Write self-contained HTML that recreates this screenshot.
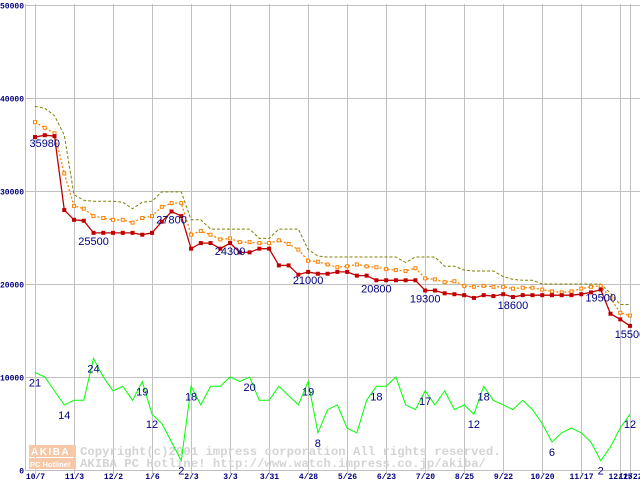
<!DOCTYPE html>
<html><head><meta charset="utf-8"><style>
html,body{margin:0;padding:0;background:#fff;}
svg{display:block;}
</style></head><body>
<svg id="chart" width="640" height="480" xmlns="http://www.w3.org/2000/svg"></svg>
<script>
const dates = ["10/7","11/3","12/2","1/6","2/3","3/3","3/31","4/28","5/26","6/23","7/20","8/25","9/22","10/20","11/17","12/15","12/22"];
const dateIdx = [0,4,8,12,16,20,24,28,32,36,40,44,48,52,56,60,61];
const yTicks = [0,10000,20000,30000,40000,50000];
const maxPrice = [39100,38900,38100,36000,29600,29000,28900,28900,28900,28800,28100,28800,28900,29900,29900,29900,26900,26900,25900,25900,25900,25900,25900,24900,24900,25900,25900,25900,23700,23000,22900,22900,22900,22900,22900,22900,22900,22900,22300,22900,22900,22900,21900,21900,21500,21400,21400,21400,20800,20500,20400,20400,20000,20000,20000,20000,20000,20000,20000,19000,17800,17800];
const avgPrice = [37400,36800,36200,31900,28400,28100,27300,27100,26900,26900,26600,27100,27300,28300,28700,28700,25300,25700,25300,24800,24900,24500,24500,24400,24400,24700,24300,23700,22500,22400,22100,21800,21900,22100,21900,21800,21600,21500,21400,21700,20600,20500,20200,20300,19800,19700,19800,19700,19700,19500,19600,19600,19400,19200,19100,19200,19500,19700,19800,18500,16900,16600];
const minPrice = [35800,36000,35900,27950,26900,26800,25500,25500,25500,25500,25500,25300,25500,26700,27800,27300,23800,24400,24400,23800,24400,23400,23400,23800,23800,22000,22000,21000,21300,21100,21100,21300,21300,20900,20900,20400,20400,20400,20400,20400,19300,19300,19000,18900,18800,18500,18800,18700,18900,18600,18800,18800,18800,18800,18800,18800,18900,19100,19400,16800,16200,15500];
const shopCount = [21,20,17,14,15,15,24,20,17,18,15,19,12,10,6,2,18,14,18,18,20,19,20,15,15,18,16,14,19,8,13,14,9,8,15,18,18,20,14,13,17,14,17,13,14,12,18,15,14,13,15,13,10,6,8,9,8,6,2,5,9,12];
const priceLabelIdx = [1,6,14,20,28,35,40,49,58,61];
const priceLabelText = ["35980","25500","27800","24300","21000","20800","19300","18600","19500","15500"];
const countLabelIdx = [0,3,6,11,12,15,16,22,28,29,35,40,45,46,53,58,61];

const svg = document.getElementById('chart');
const NS = "http://www.w3.org/2000/svg";
const X0 = 35, DX = 9.754, Y0 = 470, KY = 0.0093, COUNT_SCALE = 500;
function xs(i){ return X0 + i*DX; }
function ys(v){ return Y0 - v*KY; }
function mk(tag, attrs, parent){
  const e = document.createElementNS(NS, tag);
  for (const k in attrs) e.setAttribute(k, attrs[k]);
  (parent||svg).appendChild(e);
  return e;
}
const grid = mk('g', {});


mk('line',{x1:25.5,y1:4,x2:25.5,y2:470,stroke:'#c0c0c0','stroke-width':1},grid);
yTicks.forEach(t=>{
  const y = Math.round(ys(t))+0.5;
  mk('line',{x1:25,y1:y,x2:640,y2:y,stroke:'#c0c0c0','stroke-width':1},grid);
  const tx = mk('text',{x:24,y:y+3,'text-anchor':'end','font-family':'Liberation Mono, monospace','font-size':8,'font-weight':'bold',fill:'#000080'});
  tx.textContent = t;
  
  
});
dateIdx.forEach((di,k)=>{
  const x = Math.round(xs(di))+0.5;
  mk('line',{x1:x,y1:4,x2:x,y2:474,stroke:'#c0c0c0','stroke-width':1},grid);
  const tx = mk('text',{x:x,y:479,'text-anchor':'middle','font-family':'Liberation Mono, monospace','font-size':8,'font-weight':'bold',fill:'#000080'});
  tx.textContent = dates[k];
  
  
});
const wm = mk('g',{});


mk('rect',{x:29,y:445,width:47,height:12,fill:'#f6c8a8'},wm);
mk('rect',{x:29,y:458,width:47,height:11,fill:'#f6c8a8'},wm);
const wt1 = mk('text',{x:31,y:455,'font-family':'Liberation Sans, sans-serif','font-size':10,'font-weight':'bold',fill:'#fff','letter-spacing':1.5},wm); wt1.textContent='AKIBA';
const wt2 = mk('text',{x:30,y:467,'font-family':'Liberation Sans, sans-serif','font-size':7.5,'font-weight':'bold',fill:'#fff'},wm); wt2.textContent='PC Hotline!';
const wt3 = mk('text',{x:80,y:455,'font-family':'Liberation Mono, monospace','font-size':12.3,'font-weight':'bold',fill:'#d4d4d4'},wm); wt3.textContent='Copyright(c)2001 impress corporation All rights reserved.';
const wt4 = mk('text',{x:80,y:467,'font-family':'Liberation Mono, monospace','font-size':12.3,'font-weight':'bold',fill:'#d4d4d4'},wm); wt4.textContent='AKIBA PC Hotline!  http://www.watch.impress.co.jp/akiba/';

function pts(arr, scale){ return arr.map((v,i)=>xs(i).toFixed(1)+','+ys(v*scale).toFixed(1)).join(' '); }
const cl = mk('polyline',{points:pts(shopCount,COUNT_SCALE),fill:'none',stroke:'#00ff00','stroke-width':1});


const mx = mk('polyline',{points:pts(maxPrice,1),fill:'none',stroke:'#808000','stroke-width':1,'stroke-dasharray':'3,2'});


const av = mk('polyline',{points:pts(avgPrice,1),fill:'none',stroke:'#ff8000','stroke-width':1.3,'stroke-dasharray':'2,2'});


avgPrice.forEach((v,i)=>{
  const r = mk('rect',{x:xs(i)-1.5,y:ys(v)-1.5,width:3,height:3,fill:'#fff',stroke:'#ff8000','stroke-width':1});
  
  
});
const mn = mk('polyline',{points:pts(minPrice,1),fill:'none',stroke:'#c00000','stroke-width':1.3});


minPrice.forEach((v,i)=>{
  const r = mk('rect',{x:xs(i)-2,y:ys(v)-2,width:4,height:4,fill:'#c00000'});
  
  
});
priceLabelIdx.forEach((pi,k)=>{
  const t = mk('text',{x:xs(pi),y:ys(minPrice[pi])+12,'text-anchor':'middle','font-family':'Liberation Sans, sans-serif','font-size':11,fill:'#000080'});
  t.textContent = priceLabelText[k];
  
  
});
countLabelIdx.forEach(ci=>{
  const t = mk('text',{x:xs(ci),y:ys(shopCount[ci]*COUNT_SCALE)+14,'text-anchor':'middle','font-family':'Liberation Sans, sans-serif','font-size':11,fill:'#000080'});
  t.textContent = shopCount[ci];
  
  
});
</script>
</body></html>
